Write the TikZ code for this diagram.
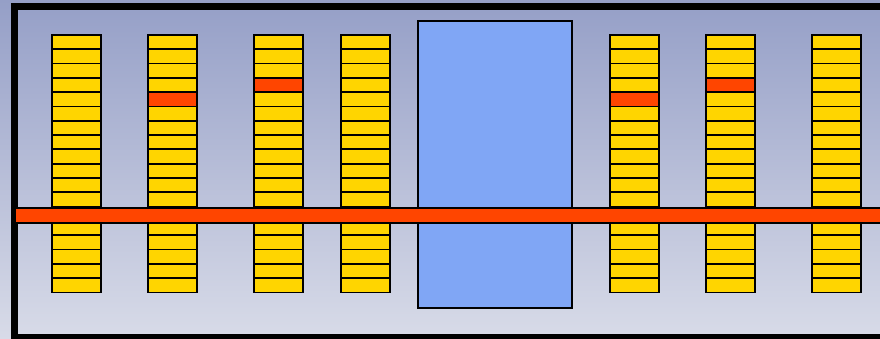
\documentclass[tikz,border=0pt]{standalone}
\usetikzlibrary{positioning}
\definecolor{cellyellow}{HTML}{FFD500}
\definecolor{barred}{HTML}{FF4500}
\definecolor{boxblue}{HTML}{80A6F5}
\definecolor{bgtop}{HTML}{959FC7}
\definecolor{bgbottom}{HTML}{D8DBE8}

\begin{document}
\begin{tikzpicture}[x=1pt,y=-1pt,
		cell/.style={draw=black, line width=1.8pt, fill=cellyellow},
		hot/.style={cell, fill=barred}]
		\useasboundingbox (0,0) rectangle (880,339);
		\fill[top color=bgtop, bottom color=bgbottom] (0,0) rectangle (880,339);
		\draw[line width=7pt] (14.5,7) rectangle (890,337.5);
		
		% stacks of cells, upper and lower part
		\foreach \x in {52,148,254,341,610,706,812}{
			\foreach \r in {0,...,11,13,14,...,17}
				\draw[cell] (\x,35+14.3*\r) rectangle ++(49,14.3);
		}
		% marked cells
		\foreach \x/\r in {148/4,254/3,610/4,706/3}
			\draw[hot] (\x,35+14.3*\r) rectangle ++(49,14.3);
		
		\draw[line width=2pt, fill=boxblue] (418,21) rectangle (572,308);
		\draw[line width=2pt, fill=barred] (15,207.5) rectangle (890,223);
	\end{tikzpicture}
\end{document}
